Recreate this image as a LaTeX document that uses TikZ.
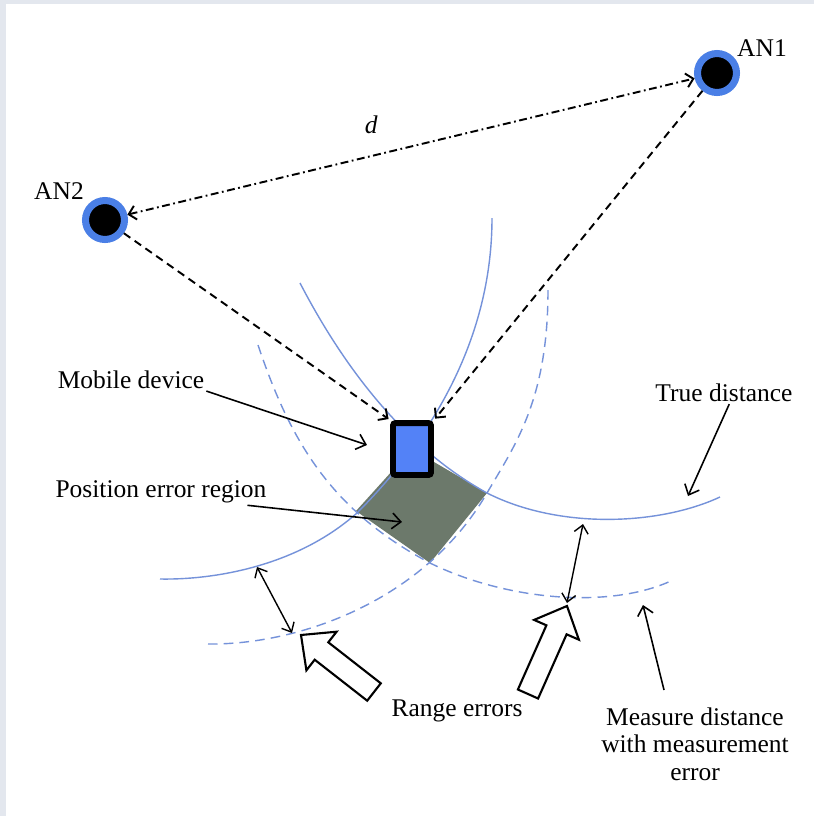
\documentclass[tikz,border=0pt]{standalone}
\usepackage{fontspec}
\setmainfont{Liberation Serif}
\usetikzlibrary{arrows.meta,calc}
\definecolor{anblue}{HTML}{4A7FE6}
\definecolor{arcblue}{HTML}{7592DA}
\definecolor{devblue}{HTML}{5382F7}
\definecolor{errgray}{HTML}{6C796B}
\definecolor{framegray}{HTML}{E3E7EE}

\begin{document}
\begin{tikzpicture}[x=0.02cm, y=-0.02cm,
  every node/.style={font=\fontsize{14.5}{15.6}\selectfont, inner sep=1pt},
  anchornode/.style={circle, fill=black, draw=anblue, line width=4pt, minimum size=0.78cm, inner sep=0pt},
  truearc/.style={arcblue, line width=0.8pt},
  measarc/.style={arcblue, line width=0.8pt, dash pattern=on 5.5pt off 3.5pt},
  rangeline/.style={line width=1.1pt, dash pattern=on 4.5pt off 3pt, -{Straight Barb[length=4pt,width=8pt]}},
  pointer/.style={line width=0.9pt, -{Straight Barb[length=5pt,width=9pt]}},
  twoway/.style={line width=0.8pt, {Straight Barb[length=4.5pt,width=8pt]}-{Straight Barb[length=4.5pt,width=8pt]}},
  bigarrow/.style={draw, fill=white, line width=1.2pt, line join=miter}]
  % frame
  \fill[framegray] (0,0) rectangle (814,816);
  \fill[white] (6,4) rectangle (814,816);
  \useasboundingbox (0,0) rectangle (814,816);

  % position error region
  \fill[errgray] (393,470) -- (434,462) -- (487,493) -- (430,563) -- (356,511) -- cycle;

  % true distances
  \draw[truearc] (300,283) .. controls (340,360) and (400,445) .. (487,493)
                           .. controls (560,530) and (660,525) .. (720,497);
  \draw[truearc] (492,218) .. controls (492,330) and (440,430) .. (357,513)
                           .. controls (295,568) and (210,580) .. (160,579);
  % measured distances
  \draw[measarc] (258,345) .. controls (290,440) and (330,510) .. (430,563)
                           .. controls (505,600) and (610,610) .. (673,580);
  \draw[measarc] (548,290) .. controls (548,400) and (515,445) .. (487,493)
                           .. controls (425,600) and (300,645) .. (208,644);

  % anchor nodes and mobile device
  \node[anchornode] (an1) at (717,73) {};
  \node[anchornode] (an2) at (105,220) {};
  \node (an1lbl) at (762,48) {AN1};
  \node (an2lbl) at (59,191) {AN2};
  \node[draw=black, fill=devblue, line width=3.4pt, rounded corners=1.5pt,
        minimum width=0.76cm, minimum height=1.04cm, inner sep=0pt] (dev) at (412,449) {};

  % ranges
  \draw[rangeline, {Straight Barb[length=4pt,width=8pt]}-{Straight Barb[length=4pt,width=8pt]},
        dash pattern=on 4.5pt off 2pt on 1pt off 2pt] (an2) -- node[pos=0.43, above=11pt] {\textit{d}} (an1);
  \draw[rangeline, shorten >=1pt] (an2) -- (dev.north west);
  \draw[rangeline, shorten >=1pt] (an1) -- (dev.north east);

  % labels
  \node (mobilelbl) at (131,380) {Mobile device};
  \node (regionlbl) at (161,492) {Position error region};
  \node (truelbl) at (724,393) {True distance};
  \node (rangelbl) at (457,711) {Range errors};
  \node[align=center] (measurelbl) at (695,744) {Measure distance\\with measurement\\error};

  \coordinate (mobtip) at (367,445);
  \coordinate (regtip) at (402,522);
  \coordinate (truetip) at (688,496);
  \coordinate (meastip) at (643,605);
  \coordinate (measfrom) at (664,690);
  \draw[pointer] (mobilelbl.south east) -- (mobtip);
  \draw[pointer] ([xshift=-12pt]regionlbl.south east) -- (regtip);
  \draw[pointer] ([xshift=3pt]truelbl.south) -- (truetip);
  \draw[pointer] (measfrom) -- (meastip);

  % range error gaps
  \coordinate (gapA1) at (257,567);
  \coordinate (gapA2) at (292,633);
  \coordinate (gapB1) at (583,524);
  \coordinate (gapB2) at (567,603);
  \draw[twoway] (gapA1) -- (gapA2);
  \draw[twoway] (gapB1) -- (gapB2);

  % hollow arrows
  \draw[bigarrow] (301,635) -- (336.6,631.7) -- (328.3,642.3) -- (380.8,683.3)
    -- (367.2,700.7) -- (314.7,659.7) -- (306.4,670.3) -- cycle;
  \draw[bigarrow] (567,606) -- (578.9,639.7) -- (566.6,634.3) -- (538.1,698.5)
    -- (517.9,689.5) -- (546.4,625.3) -- (534.1,619.9) -- cycle;
\end{tikzpicture}
\end{document}
